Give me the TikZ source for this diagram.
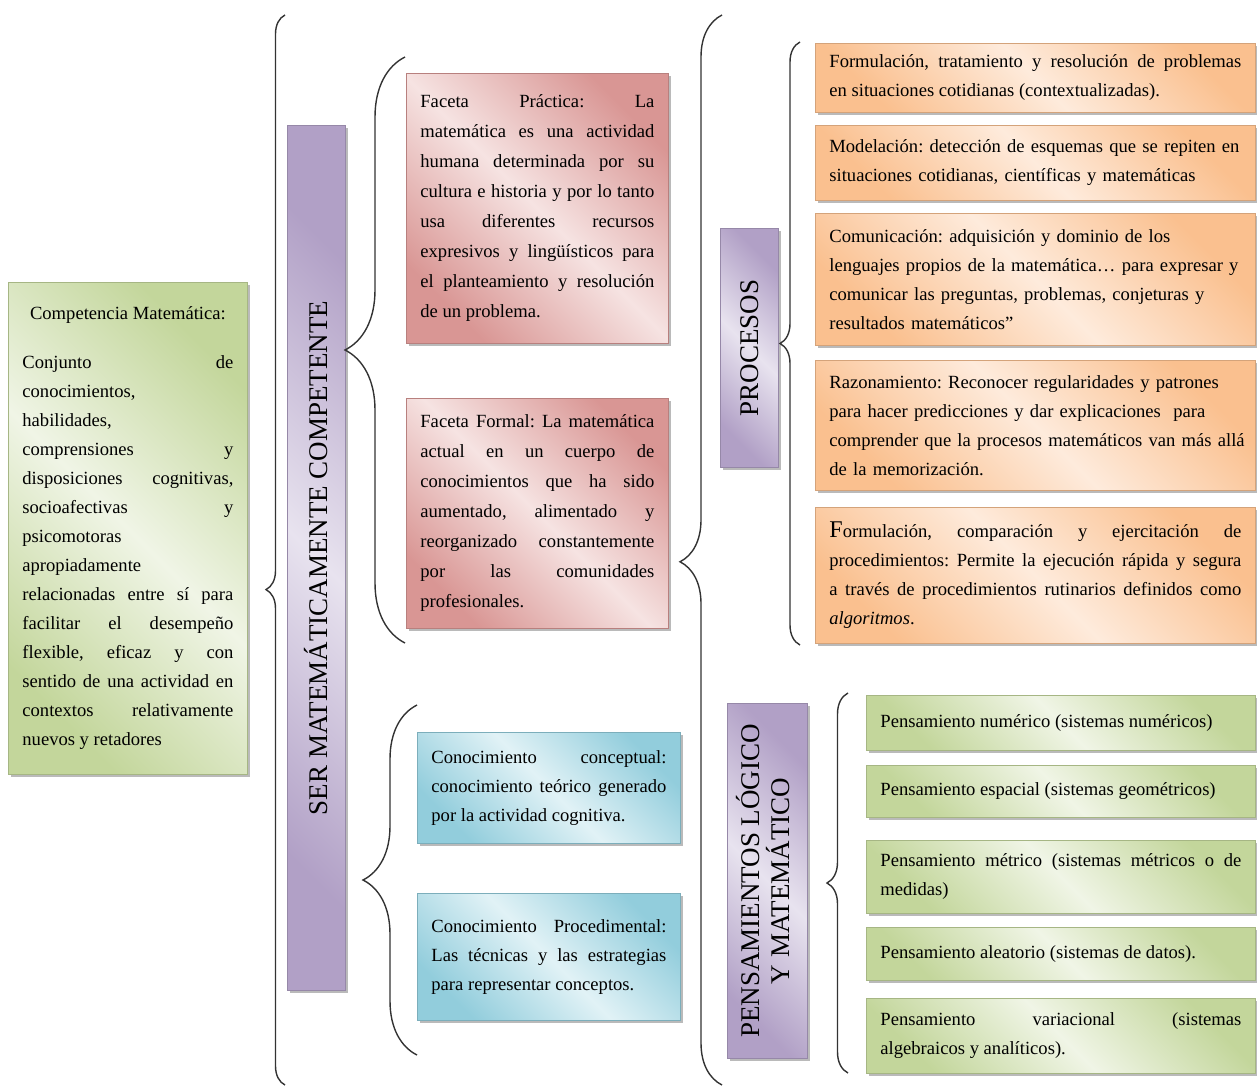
\documentclass[tikz,border=0pt]{standalone}
\usepackage{fontspec}
\setmainfont{Liberation Serif}
\usetikzlibrary{shadows,decorations.pathreplacing}
\frenchspacing

\definecolor{moradoos}{HTML}{B1A0C6}
\definecolor{moradocl}{HTML}{E8E3EF}
\definecolor{rojoos}{HTML}{D99694}
\definecolor{rojocl}{HTML}{F6E3E2}
\definecolor{azulos}{HTML}{92CDDC}
\definecolor{azulcl}{HTML}{E1F2F6}
\definecolor{naranjaos}{HTML}{FAC08F}
\definecolor{naranjacl}{HTML}{FEEBDC}
\definecolor{verdeos}{HTML}{C3D69B}
\definecolor{verdecl}{HTML}{F0F5E6}

\tikzset{
  caja/.style 2 args={draw=#1!85!black, line width=0.8pt,
    left color=#1, right color=#1, middle color=#2, shading angle=135,
    drop shadow={shadow xshift=3pt, shadow yshift=-3pt, fill=black!45, opacity=.6},
    anchor=north west, inner xsep=14pt, inner ysep=4pt},
  texto/.style={font=\fontsize{18.6}{29}\selectfont, align=justify},
  rotulo/.style={font=\fontsize{27}{30}\selectfont, inner xsep=0pt},
  llave/.style={decorate, line width=1.4pt, draw=black!80}
}

\begin{document}
\begin{tikzpicture}[x=1pt,y=-1pt]
    \useasboundingbox (0,0) rectangle (1257,1089);

    % competencia
    \node[caja={verdeos}{verdecl}, texto, text width=211pt, minimum height=492pt] (comp) at (8,282)
      {\centerline{Competencia Matemática:}\vspace{20pt}
       Conjunto de\linebreak conocimientos,\linebreak habilidades,\linebreak comprensiones y\linebreak
       disposiciones cognitivas,\linebreak socioafectivas y\linebreak psicomotoras\linebreak
       apropiadamente\linebreak relacionadas entre sí para\linebreak facilitar el desempeño\linebreak
       flexible, eficaz y con\linebreak sentido de una actividad en\linebreak contextos relativamente\linebreak
       nuevos y retadores};

    \begin{scope}[every node/.style={caja={moradoos}{moradocl}, rotulo}]
        \node[minimum width=58pt, minimum height=865pt] (ser) at (287,125)
          {\rotatebox{90}{SER MATEMÁTICAMENTE COMPETENTE}};
        \node[minimum width=58pt, minimum height=239pt] (procesos) at (720,228)
          {\rotatebox{90}{PROCESOS}};
        \node[minimum width=80pt, minimum height=355pt] (pensam) at (727,703)
          {\rotatebox{90}{\begin{tabular}{@{}c@{}}PENSAMIENTOS LÓGICO\\[-3pt] Y MATEMÁTICO\end{tabular}}};
    \end{scope}

    \begin{scope}[every node/.style={caja={rojoos}{rojocl}, texto, text width=234pt,
                                     font=\fontsize{18.6}{30}\selectfont}]
        \node[minimum height=270pt] (practica) at (406,73)
          {Faceta Práctica: La\linebreak matemática es una actividad\linebreak humana determinada por su\linebreak
           cultura e historia y por lo tanto\linebreak usa diferentes recursos\linebreak
           expresivos y lingüísticos para\linebreak el planteamiento y resolución\linebreak de un problema.};
        \node[minimum height=230pt] (formal) at (406,398)
          {Faceta Formal: La matemática\linebreak actual en un cuerpo de\linebreak conocimientos que ha sido\linebreak
           aumentado, alimentado y\linebreak reorganizado constantemente\linebreak por las comunidades\linebreak
           profesionales.};
    \end{scope}

    \begin{scope}[every node/.style={caja={azulos}{azulcl}, texto, text width=235pt}]
        \node[minimum height=111pt] (concep) at (417,732)
          {Conocimiento conceptual:\linebreak conocimiento teórico generado\linebreak por la actividad cognitiva.};
        \node[minimum height=127pt] (proced) at (417,893)
          {Conocimiento Procedimental:\linebreak Las técnicas y las estrategias\linebreak para representar conceptos.};
    \end{scope}

    \begin{scope}[every node/.style={caja={naranjaos}{naranjacl}, texto, text width=412pt}]
        \node[minimum height=69pt] (o1) at (815,43)
          {Formulación, tratamiento y resolución de problemas\linebreak en situaciones cotidianas (contextualizadas).};
        \node[minimum height=75pt, align=left] (o2) at (815,125)
          {\mbox{Modelación: detección de esquemas que se repiten en}\\ situaciones cotidianas, científicas y matemáticas};
        \node[minimum height=132pt, align=left] (o3) at (815,213)
          {Comunicación: adquisición y dominio de los\\ \mbox{lenguajes propios de la matemática… para expresar y}\\
           comunicar las preguntas, problemas, conjeturas y\\ resultados matemáticos”};
        \node[minimum height=130pt, align=left] (o4) at (815,360)
          {Razonamiento: Reconocer regularidades y patrones\\ \mbox{para hacer predicciones y dar explicaciones\ \ para}\\
           \mbox{comprender que la procesos matemáticos van más allá}\\ de la memorización.};
        \node[minimum height=136pt] (o5) at (815,507)
          {{\fontsize{24}{29}\selectfont F}ormulación, comparación y ejercitación de\linebreak
           procedimientos: Permite la ejecución rápida y segura\linebreak
           a través de procedimientos rutinarios definidos como\linebreak \textit{algoritmos}.};
    \end{scope}

    \begin{scope}[every node/.style={caja={verdeos}{verdecl}, texto, text width=361pt}]
        \node[minimum height=55pt] (g1) at (866,695) {Pensamiento numérico (sistemas numéricos)};
        \node[minimum height=52pt] (g2) at (866,765) {Pensamiento espacial (sistemas geométricos)};
        \node[minimum height=73pt] (g3) at (866,840) {Pensamiento métrico (sistemas métricos o de\linebreak medidas)};
        \node[minimum height=53pt] (g4) at (866,927) {Pensamiento aleatorio (sistemas de datos).};
        \node[minimum height=75pt] (g5) at (866,998) {Pensamiento variacional (sistemas\linebreak algebraicos y analíticos).};
    \end{scope}

    % llaves
    \coordinate (l1a) at (285,1085);  \coordinate (l1b) at (285,15);
    \coordinate (l2a) at (405,643);   \coordinate (l2b) at (405,57);
    \coordinate (l3a) at (417,1055);  \coordinate (l3b) at (417,705);
    \coordinate (l4a) at (722,1085);  \coordinate (l4b) at (722,15);
    \coordinate (l5a) at (800,645);   \coordinate (l5b) at (800,42);
    \coordinate (l6a) at (848,1073);  \coordinate (l6b) at (848,693);

    \draw[llave, decoration={brace, amplitude=19pt, aspect=0.463}] (l1a) -- (l1b);
    \draw[llave, decoration={brace, amplitude=60pt}] (l2a) -- (l2b);
    \draw[llave, decoration={brace, amplitude=54pt}] (l3a) -- (l3b);
    \draw[llave, decoration={brace, amplitude=42pt, aspect=0.489}] (l4a) -- (l4b);
    \draw[llave, decoration={brace, amplitude=20pt}] (l5a) -- (l5b);
    \draw[llave, decoration={brace, amplitude=21pt}] (l6a) -- (l6b);

\end{tikzpicture}
\end{document}
